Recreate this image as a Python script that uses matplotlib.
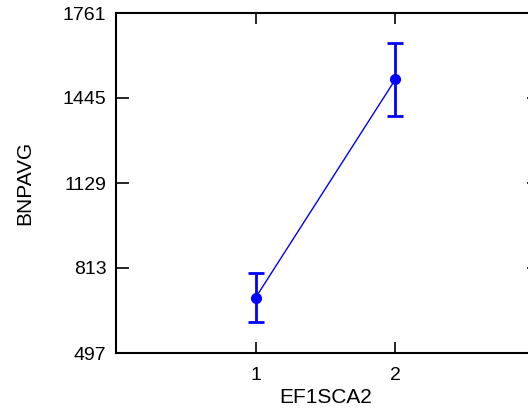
import matplotlib
matplotlib.use("Agg")
import matplotlib.pyplot as plt

categories = [1, 2]
means = [703, 1514]
errors = [92, 135]
yticks = [497, 813, 1129, 1445, 1761]

plt.rcParams['font.family'] = ['Liberation Sans', 'DejaVu Sans']

fig = plt.figure(figsize=(5.28, 4.08), dpi=100)
W, H = 528, 408
left, right, top, bottom = 116, 535, 13, 353
ax = fig.add_axes([left / W, 1 - bottom / H, (right - left) / W, (bottom - top) / H])

ax.errorbar(categories, means, yerr=errors, color='#0000ff', marker='o',
            markersize=7, linewidth=1, elinewidth=2, capsize=5.5, capthick=2)

ax.set_xlim(0, 3)
ax.set_ylim(497, 1761)
ax.set_xticks(categories)
ax.set_yticks(yticks)
ax.set_yticklabels([str(v) for v in yticks])
ax.tick_params(direction='in', width=1.2, labelsize=14, top=True, right=True)
ax.tick_params(axis='x', length=8, pad=10)
ax.tick_params(axis='y', length=9.5, pad=7)
for t in ax.yaxis.get_major_ticks():
    t.tick2line.set_markersize(6)
for s in ax.spines.values():
    s.set_linewidth(1.5)

ax.set_xlabel('EF1SCA2', fontsize=15, labelpad=3)
ax.set_ylabel('BNPAVG', fontsize=15, labelpad=20)

fig.savefig('out.png', dpi=100)
